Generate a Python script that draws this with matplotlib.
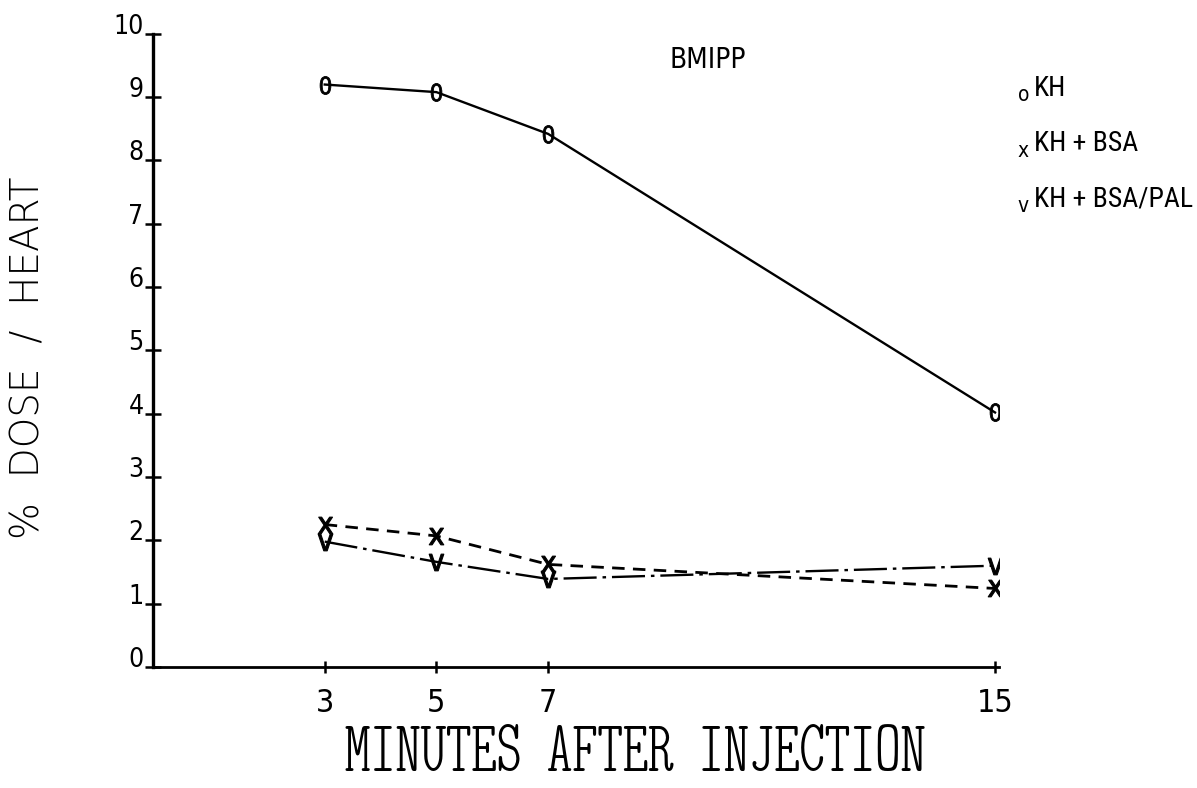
import numpy as np
from matplotlib import pyplot as plt

# minutes after injection
minutes = [3, 5, 7, 15]
# % dose / heart
kh = [9.2, 9.08, 8.42, 4.02]
kh_bsa = [2.25, 2.07, 1.62, 1.24]
kh_bsa_pal = [1.98, 1.66, 1.39, 1.6]

x_ticks = [3, 5, 7, 15]
y_ticks = list(range(0, 11))

plt.rcParams['font.family'] = ['DejaVu Sans']
plt.rcParams['font.stretch'] = 'condensed'
narrow = ['Roboto Condensed', 'DejaVu Sans']
plotter = ['Latin Modern Mono Light Cond', 'Roboto Condensed', 'DejaVu Sans']

fig = plt.figure(figsize=(11.97, 7.88), dpi=100)
ax = fig.add_axes([0.128, 0.1536, 0.707, 0.8034])

ax.plot(minutes, kh, color='black', lw=1.7, ls='-',
        marker='$0$', ms=13, mfc='black', mec='black', mew=0.6)
ax.plot(minutes, kh_bsa, color='black', lw=2, ls=(0, (4.5, 3)),
        marker='$\\mathrm{x}$', ms=12, mfc='black', mec='black', mew=0.8)
ax.plot(minutes, kh_bsa_pal, color='black', lw=1.7, ls=(0, (14, 2.5, 1.5, 2.5)),
        marker='$\\mathrm{v}$', ms=12, mfc='black', mec='black', mew=0.8)

ax.set_xlim(-0.07, 15.08)
ax.set_ylim(0, 10)
ax.set_xticks(x_ticks)
ax.set_yticks(y_ticks)
ax.spines['top'].set_visible(False)
ax.spines['right'].set_visible(False)
ax.spines['left'].set_linewidth(2.4)
ax.spines['bottom'].set_linewidth(2)
ax.tick_params(axis='y', direction='inout', length=12, width=1.8,
               labelsize=19, pad=1)
ax.tick_params(axis='x', direction='inout', length=9, width=1.8,
               labelsize=23, pad=11)
for lab in ax.get_yticklabels():
    lab.set_verticalalignment('baseline')

# x title sits right of the axes centre in the original
fig.text(0.531, 0.0, 'MINUTES AFTER INJECTION', fontsize=52,
         fontfamily=plotter, ha='center', va='bottom')
fig.text(0.024, 0.546, '%  DOSE  /  HEART', rotation=90, fontsize=28,
         fontfamily=['DejaVu Sans'], fontstretch='normal', fontweight=200,
         ha='center', va='center')

fig.text(0.591, 0.924, 'BMIPP', fontsize=20, ha='center', va='center')

# legend drawn as text, the way the plotter did it
legend_labels = ['KH', 'KH + BSA', 'KH + BSA/PAL']
legend_marks = ['o', 'x', 'v']
for i, (mark, lab) in enumerate(zip(legend_marks, legend_labels)):
    y = 0.888 - i * 0.07
    fig.text(0.855, y - 0.009, mark, fontsize=15, ha='center', va='center')
    fig.text(0.864, y, lab, fontsize=20, fontfamily=narrow,
             ha='left', va='center')

fig.savefig('out.png', dpi=100, facecolor='white')
